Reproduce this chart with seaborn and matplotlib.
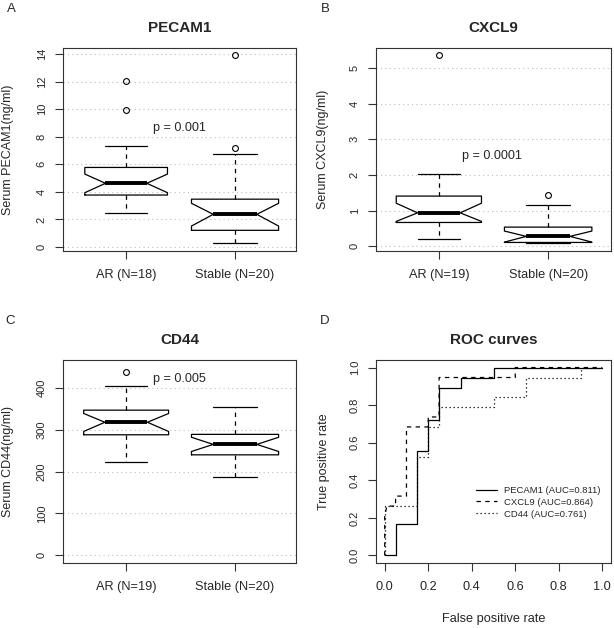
import numpy as np
import pandas as pd
import matplotlib
matplotlib.use("Agg")
import matplotlib.pyplot as plt
import seaborn as sns

# box summaries (AR, Stable)
groups = ["AR", "Stable"]

pecam_n = [18, 20]
pecam_whislo = [2.49, 0.30]
pecam_q1 = [3.77, 1.21]
pecam_cilo = [3.94, 1.52]
pecam_med = [4.62, 2.37]
pecam_cihi = [5.29, 3.17]
pecam_q3 = [5.77, 3.47]
pecam_whishi = [7.30, 6.75]
pecam_fliers = [[9.96, 12.07], [7.18, 13.93]]

cxcl9_n = [19, 20]
cxcl9_whislo = [0.22, 0.10]
cxcl9_q1 = [0.67, 0.11]
cxcl9_cilo = [0.70, 0.12]
cxcl9_med = [0.94, 0.28]
cxcl9_cihi = [1.21, 0.43]
cxcl9_q3 = [1.41, 0.54]
cxcl9_whishi = [2.04, 1.17]
cxcl9_fliers = [[5.37], [1.45]]

cd44_n = [19, 20]
cd44_whislo = [222, 186]
cd44_q1 = [288, 240]
cd44_cilo = [296, 248]
cd44_med = [318, 265]
cd44_cihi = [339, 282]
cd44_q3 = [347, 289]
cd44_whishi = [405, 355]
cd44_fliers = [[438], []]

# ROC curves
roc_names = ["PECAM1", "CXCL9", "CD44"]
roc_auc = [0.811, 0.864, 0.761]
pecam_fpr = [0, 0.05, 0.05, 0.15, 0.15, 0.2, 0.2, 0.25, 0.25, 0.35, 0.35, 0.5, 0.5, 1.0]
pecam_tpr = [0, 0, 0.167, 0.167, 0.556, 0.556, 0.722, 0.722, 0.889, 0.889, 0.944, 0.944, 1.0, 1.0]
cxcl9_fpr = [0, 0, 0.01, 0.05, 0.05, 0.1, 0.1, 0.2, 0.2, 0.25, 0.25, 0.6, 0.6, 1.0]
cxcl9_tpr = [0, 0.211, 0.263, 0.263, 0.316, 0.316, 0.684, 0.684, 0.737, 0.737, 0.947, 0.947, 1.0, 1.0]
cd44_fpr = [0, 0, 0.15, 0.15, 0.2, 0.2, 0.25, 0.25, 0.5, 0.5, 0.65, 0.65, 0.9, 0.9, 1.0]
cd44_tpr = [0, 0.263, 0.263, 0.526, 0.526, 0.684, 0.684, 0.789, 0.789, 0.842, 0.842, 0.947, 0.947, 1.0, 1.0]

sns.set_style("white")
plt.rcParams['font.family'] = ['Liberation Sans', 'DejaVu Sans']
FRAME = '#333333'


def make_stats(n, whislo, q1, cilo, med, cihi, q3, whishi, fliers):
    stats = []
    for i, g in enumerate(groups):
        stats.append(dict(label=f"{g} (N={n[i]})", whislo=whislo[i], q1=q1[i], cilo=cilo[i],
                          med=med[i], cihi=cihi[i], q3=q3[i], whishi=whishi[i],
                          fliers=np.array(fliers[i])))
    return stats


def style_axes(ax):
    for s in ax.spines.values():
        s.set_color(FRAME)
        s.set_linewidth(0.8)
    ax.tick_params(axis='both', which='both', direction='out', length=5.8, width=0.8,
                   color=FRAME, bottom=True, left=True)
    ax.tick_params(axis='y', labelsize=8, labelrotation=90, pad=6)
    for lab in ax.get_yticklabels():
        lab.set_va('center')


def box_panel(ax, stats, n, yticks, ylim, xlim, title, ylabel, ptxt, ppos, labx):
    widths = [0.8 * np.sqrt(k / 20) for k in n]
    ax.yaxis.grid(True, linestyle=(0, (1, 3)), color='#bbbbbb', linewidth=0.8)
    ax.set_axisbelow(True)
    ax.bxp(stats, positions=[1, 2], widths=widths, capwidths=[w * 0.5 for w in widths],
           shownotches=True, showfliers=True, patch_artist=False,
           boxprops=dict(color='black', linewidth=0.9),
           whiskerprops=dict(color='black', linewidth=0.9, linestyle=(0, (3.5, 3.5))),
           capprops=dict(color='black', linewidth=0.9),
           medianprops=dict(color='black', linewidth=2.8, solid_capstyle='butt'),
           flierprops=dict(marker='o', markerfacecolor='none', markeredgecolor='black',
                           markersize=4.2, markeredgewidth=0.8))
    ax.set_xlim(*xlim)
    ax.set_ylim(*ylim)
    ax.set_yticks(yticks)
    ax.set_yticklabels([str(t) for t in yticks])
    style_axes(ax)
    ax.tick_params(axis='x', labelsize=9.2, pad=7.5)
    ax.set_title(title, fontsize=11, fontweight='bold', pad=11.5)
    ax.set_ylabel(ylabel, fontsize=9)
    ax.yaxis.set_label_coords(labx, 0.5)
    ax.text(ppos[0], ppos[1], ptxt, ha='center', va='center', fontsize=9.1)


fig = plt.figure(figsize=(6.14, 6.28), dpi=100)
axA = fig.add_axes([0.1026, 0.6003, 0.3795, 0.3232])
axB = fig.add_axes([0.6124, 0.6003, 0.3827, 0.3232])
axC = fig.add_axes([0.1026, 0.1035, 0.3795, 0.3232])
axD = fig.add_axes([0.6124, 0.1035, 0.3827, 0.3232])

box_panel(axA, make_stats(pecam_n, pecam_whislo, pecam_q1, pecam_cilo, pecam_med, pecam_cihi,
                          pecam_q3, pecam_whishi, pecam_fliers), pecam_n,
          list(range(0, 15, 2)), (-0.29, 14.43), (0.42, 2.56), "PECAM1",
          "Serum PECAM1(ng/ml)", "p = 0.001", (1.49, 8.6), -0.21)
box_panel(axB, make_stats(cxcl9_n, cxcl9_whislo, cxcl9_q1, cxcl9_cilo, cxcl9_med, cxcl9_cihi,
                          cxcl9_q3, cxcl9_whishi, cxcl9_fliers), cxcl9_n,
          list(range(0, 6)), (-0.13, 5.56), (0.425, 2.575), "CXCL9",
          "Serum CXCL9(ng/ml)", "p = 0.0001", (1.49, 2.52), -0.199)
box_panel(axC, make_stats(cd44_n, cd44_whislo, cd44_q1, cd44_cilo, cd44_med, cd44_cihi,
                          cd44_q3, cd44_whishi, cd44_fliers), cd44_n,
          list(range(0, 401, 100)), (-19, 467), (0.42, 2.56), "CD44",
          "Serum CD44(ng/ml)", "p = 0.005", (1.49, 421), -0.21)

# ROC panel
styles = ['-', (0, (3.5, 3.5)), (0, (1, 2.2))]
for name, auc, fpr, tpr, ls in zip(roc_names, roc_auc, [pecam_fpr, cxcl9_fpr, cd44_fpr],
                                   [pecam_tpr, cxcl9_tpr, cd44_tpr], styles):
    sns.lineplot(x=fpr, y=tpr, ax=axD, sort=False, estimator=None, color='black',
                 linewidth=0.9, linestyle=ls, label=f"{name} (AUC={auc:.3f})")
axD.set_xlim(-0.04, 1.04)
axD.set_ylim(-0.04, 1.04)
ticks = [0, 0.2, 0.4, 0.6, 0.8, 1.0]
axD.set_xticks(ticks)
axD.set_xticklabels([f"{t:.1f}" for t in ticks])
axD.set_yticks(ticks)
axD.set_yticklabels([f"{t:.1f}" for t in ticks])
style_axes(axD)
axD.tick_params(axis='x', labelsize=9.2, pad=7.5)
axD.set_title("ROC curves", fontsize=11, fontweight='bold', pad=11.5)
axD.set_ylabel("True positive rate", fontsize=9)
axD.yaxis.set_label_coords(-0.196, 0.5)
axD.set_xlabel("False positive rate", fontsize=9.2, va='top')
axD.xaxis.set_label_coords(0.5, -0.245)
axD.legend(loc='upper left', bbox_to_anchor=(0.425, 0.38), frameon=False, fontsize=6.8,
           handlelength=2.2, handletextpad=0.8, labelspacing=0.3, borderpad=0, borderaxespad=0)

for letter, x, y in [("A", 11, 9), ("B", 325, 9), ("C", 10, 321), ("D", 325, 321)]:
    fig.text(x / 614, 1 - y / 628, letter, ha='center', va='center', fontsize=9.5)

fig.savefig("out.png", dpi=100)
